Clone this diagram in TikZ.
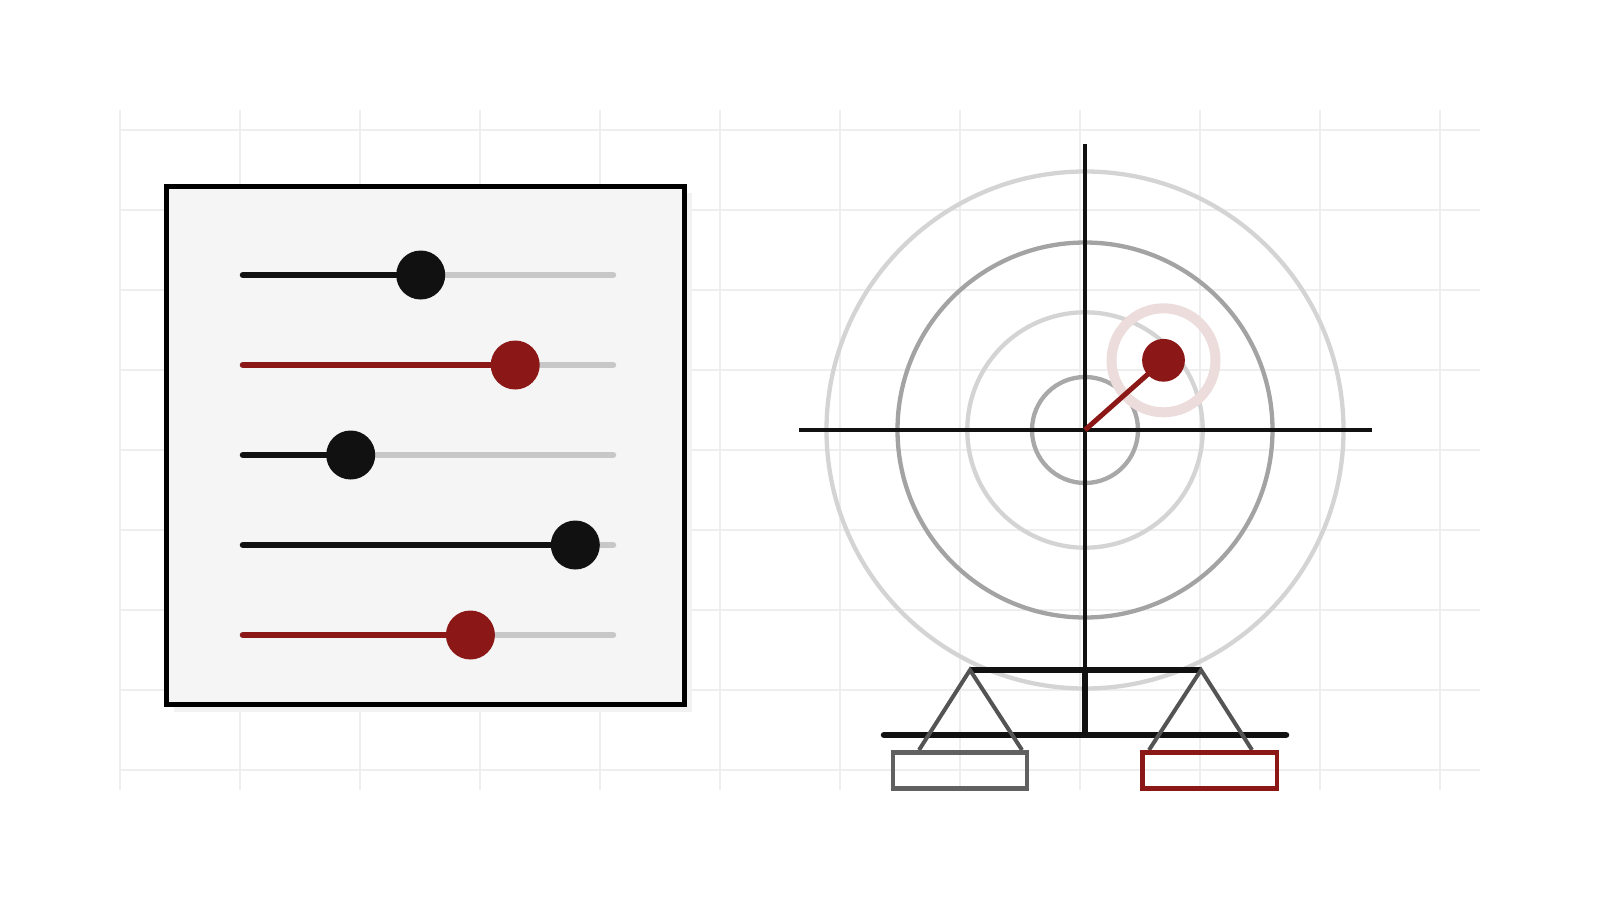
\documentclass[tikz,border=0pt]{standalone}
\usepackage{tikz}
\definecolor{Darkred}{RGB}{139,23,23}
\definecolor{Knob}{RGB}{17,17,17}
\definecolor{Gridgray}{RGB}{238,238,238}
\definecolor{Panel}{RGB}{245,245,245}
\definecolor{Halo}{RGB}{237,220,220}
\tikzset{
  track/.style={line width=6.5, line cap=round},
  ring/.style={line width=4.3},
  axis/.style={line width=4.2, Knob},
  leg/.style={line width=4, black!67},
  pan/.style={line width=4.7},
}

\begin{document}
\begin{tikzpicture}[x=1pt,y=-1pt]
\useasboundingbox (0,0) rectangle (1600,900);
\fill[white] (0,0) rectangle (1600,900);
\foreach \x in {120,240,...,1440} \draw[Gridgray, line width=1.2] (\x,110)--(\x,790);
\foreach \y in {130,210,...,770} \draw[Gridgray, line width=1.2] (120,\y)--(1480,\y);
% sliders
\fill[black!5] (174,193) rectangle (692,712);
\draw[line width=5, fill=Panel] (166.5,186.5) rectangle (684,704);
\foreach \y/\k/\c in {275/420.7/Knob, 365/515.2/Darkred, 455/350.7/Knob, 545/575.3/Knob, 635/470.4/Darkred}{
  \draw[track, black!22] (243,\y)--(613,\y);
  \draw[track, \c] (243,\y)--(\k,\y);
  \fill[\c] (\k,\y) circle (24.5);
}
% target
\coordinate (O) at (1085,430);
\coordinate (dot) at (1163.5,360.3);
\draw[ring, black!17] (O) circle (258.5);
\draw[ring, black!36] (O) circle (187.5);
\draw[ring, black!17] (O) circle (117.7);
\draw[ring, black!34] (O) circle (53);
\draw[axis] (799,430)--(1372,430);
\draw[axis] (1085,144)--(1085,670);
\draw[line width=10, Halo] (dot) circle (52);
\draw[line width=5, Darkred] (O)--(dot);
\fill[Darkred] (dot) circle (21.4);
% balance
\coordinate (bl) at (970,670);
\coordinate (br) at (1201,670);
\draw[line width=6.5, Knob] (bl)--(br);
\draw[line width=6.5, Knob] (1085,670)--(1085,735);
\draw[line width=6.5, Knob, line cap=round] (884,735)--(1286,735);
\draw[leg] (919,750)--(bl)--(1022,750);
\draw[leg] (1149,750)--(br)--(1252,750);
\draw[pan, black!62] (893,752.3) rectangle (1027,788.3);
\draw[pan, Darkred] (1142.3,752.3) rectangle (1277,788.3);
\end{tikzpicture}
\end{document}
